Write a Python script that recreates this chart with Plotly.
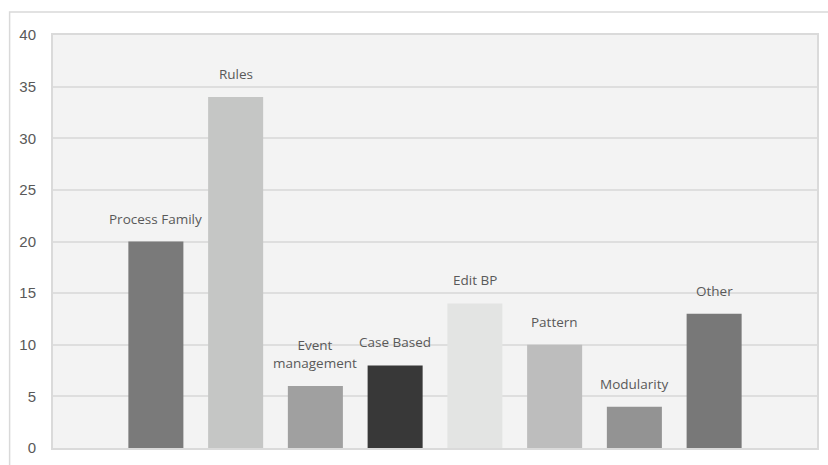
import plotly.graph_objects as go

# Approaches counted per category
categories = ["Process Family", "Rules", "Event<br>management", "Case Based",
              "Edit BP", "Pattern", "Modularity", "Other"]
counts = [20, 34, 6, 8, 14, 10, 4, 13]
bar_colors = ["#7a7a7a", "#c5c6c5", "#a0a0a0", "#383838",
              "#e3e4e3", "#bdbdbd", "#939393", "#787878"]
y_ticks = [0, 5, 10, 15, 20, 25, 30, 35, 40]

positions = list(range(len(categories)))

fig = go.Figure()
fig.add_trace(go.Bar(
    x=positions,
    y=counts,
    width=0.69,
    marker=dict(color=bar_colors, line=dict(width=0)),
    hoverinfo="skip",
    showlegend=False,
))

# Category names written above each bar
for pos, name, val in zip(positions, categories, counts):
    fig.add_annotation(
        x=pos, y=val, text=name, showarrow=False,
        xanchor="center", yanchor="bottom", yshift=12,
        font=dict(family="Open Sans, sans-serif", size=13.5, color="#595959"),
    )

# Outer chart frame (left and top edges visible)
fig.add_shape(
    type="rect", xref="paper", yref="paper",
    x0=-0.0568, x1=1.03, y0=-0.08, y1=1.0555,
    line=dict(color="#d9d9d9", width=1.5), fillcolor="rgba(0,0,0,0)",
    layer="below",
)

fig.update_layout(
    width=828, height=465,
    margin=dict(l=53, r=9, t=35, b=16),
    paper_bgcolor="#ffffff",
    plot_bgcolor="#f3f3f3",
    bargap=0.31,
    xaxis=dict(
        range=[-1.29, 8.29],
        showticklabels=False, showgrid=False, zeroline=False,
        showline=True, mirror=True, linecolor="#dadada", linewidth=2,
        ticks="",
    ),
    yaxis=dict(
        range=[0, 40],
        tickvals=y_ticks,
        tickfont=dict(family="Liberation Sans Narrow, Arial Narrow, sans-serif",
                      size=15, color="#595959"),
        ticklabelstandoff=12,
        showgrid=True, gridcolor="#dedede", gridwidth=1.5,
        zeroline=False,
        showline=True, mirror=True, linecolor="#dadada", linewidth=2,
        ticks="",
    ),
)

fig.write_html("out.html")
